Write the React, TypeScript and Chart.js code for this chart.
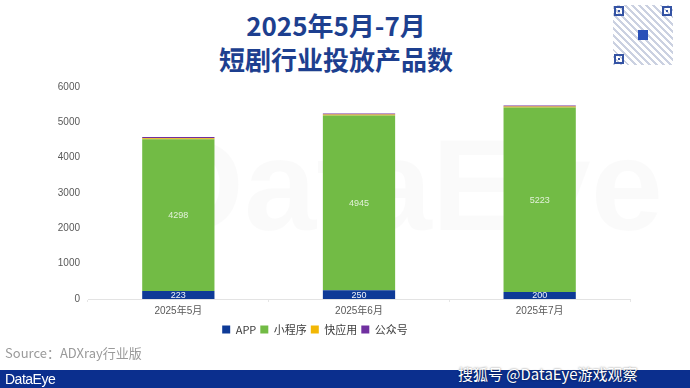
import React, { useEffect, useRef } from "react";
import { Chart, registerables } from "chart.js";

Chart.register(...registerables);

const categories = ["2025年5月", "2025年6月", "2025年7月"];
const appValues = [223, 250, 200];
const miniProgramValues = [4298, 4945, 5223];
const quickAppValues = [32, 30, 28];
const officialAccountValues = [30, 28, 28];
const seriesNames = ["APP", "小程序", "快应用", "公众号"];
const seriesColors = ["#0E3A97", "#72BB45", "#F2B705", "#7030A0"];
const yTicks = [0, 1000, 2000, 3000, 4000, 5000, 6000];

const FONT = '"Liberation Sans", "Noto Sans CJK SC", sans-serif';
const CJK = '"Noto Sans CJK SC", "Liberation Sans", sans-serif';

const labelPlugin = {
  id: "segLabels",
  afterDatasetsDraw(chart: any) {
    const ctx = chart.ctx;
    ctx.save();
    ctx.font = `9px ${FONT}`;
    ctx.textAlign = "center";
    ctx.textBaseline = "middle";
    [0, 1].forEach((di) => {
      const meta = chart.getDatasetMeta(di);
      const data = chart.data.datasets[di].data;
      meta.data.forEach((bar: any, i: number) => {
        const p = bar.getProps(["x", "y", "base"], true);
        ctx.fillStyle = di === 0 ? "rgba(255,255,255,0.95)" : "rgba(255,255,255,0.8)";
        ctx.fillText(String(data[i]), p.x, (p.y + p.base) / 2 + 0.5);
      });
    });
    ctx.restore();
  },
};

function ChartView() {
  const ref = useRef<HTMLCanvasElement | null>(null);
  useEffect(() => {
    if (!ref.current) return;
    const values = [appValues, miniProgramValues, quickAppValues, officialAccountValues];
    const chart = new Chart(ref.current, {
      type: "bar",
      data: {
        labels: categories,
        datasets: values.map((v, i) => ({
          label: seriesNames[i],
          data: v,
          backgroundColor: seriesColors[i],
          borderWidth: 0,
          barPercentage: 0.4,
          categoryPercentage: 1,
        })),
      },
      options: {
        animation: false,
        responsive: false,
        maintainAspectRatio: false,
        layout: { padding: { left: 0, right: 60, top: 5, bottom: 0 } },
        scales: {
          x: {
            stacked: true,
            grid: {
              display: true,
              drawOnChartArea: false,
              drawTicks: true,
              tickLength: 3,
              color: "#e6e6e6",
              offset: true,
            },
            border: { display: true, color: "#e3e3e3" },
            ticks: { color: "#595959", font: { size: 10, family: FONT }, padding: 3 },
          },
          y: {
            stacked: true,
            min: 0,
            max: 6000,
            afterBuildTicks(scale: any) {
              scale.ticks = yTicks.map((v) => ({ value: v }));
            },
            afterFit(scale: any) {
              scale.width = 88;
            },
            grid: { display: false, drawTicks: false },
            border: { display: false },
            ticks: {
              color: "#595959",
              font: { size: 10, family: FONT },
              padding: 8,
              callback: (v: any) => String(v),
            },
          },
        },
        plugins: {
          legend: {
            position: "bottom",
            labels: {
              boxWidth: 8,
              boxHeight: 8,
              padding: 4,
              color: "#404040",
              font: { size: 11, family: CJK },
            },
          },
          tooltip: { enabled: false },
        },
      },
      plugins: [labelPlugin],
    } as any);
    return () => chart.destroy();
  }, []);
  return <canvas ref={ref} width={690} height={272} style={{ position: "absolute", left: 0, top: 73 }} />;
}

function QR() {
  const finder = (style: React.CSSProperties) => (
    <div
      style={{
        position: "absolute",
        width: 10,
        height: 10,
        border: "2px solid #2a4aa0",
        boxSizing: "border-box",
        ...style,
      }}
    >
      <div style={{ position: "absolute", left: 2, top: 2, width: 2, height: 2, background: "#2a4aa0" }} />
    </div>
  );
  return (
    <div
      style={{
        position: "absolute",
        left: 613,
        top: 5,
        width: 60,
        height: 60,
        background:
          "repeating-linear-gradient(45deg, #c9cfe0 0 2px, #ffffff 2px 5px), repeating-linear-gradient(-45deg, #d7dbea 0 2px, #ffffff 2px 4px)",
        opacity: 0.95,
      }}
    >
      {finder({ left: 1, top: 1 })}
      {finder({ right: 1, top: 1 })}
      {finder({ left: 1, bottom: 1 })}
      <div style={{ position: "absolute", left: 25, top: 25, width: 10, height: 10, background: "#1f47b5" }} />
    </div>
  );
}

export default function App() {
  return (
    <div
      style={{
        position: "fixed",
        left: 0,
        top: 0,
        width: 690,
        height: 388,
        background: "#ffffff",
        overflow: "hidden",
      }}
    >
      <div
        style={{
          position: "absolute",
          left: 0,
          width: 672,
          top: 8,
          textAlign: "center",
          color: "#1D3F8F",
          fontFamily: CJK,
          fontWeight: 700,
          fontSize: 26,
          lineHeight: "34px",
        }}
      >
        <div>2025年5月-7月</div>
        <div>短剧行业投放产品数</div>
      </div>
      <QR />
      <div
        style={{
          position: "absolute",
          left: 150,
          top: 120,
          fontFamily: FONT,
          fontSize: 130,
          fontWeight: 700,
          color: "rgba(0,0,0,0.02)",
          lineHeight: "130px",
        }}
      >
        DataEye
      </div>
      <ChartView />
      <div
        style={{
          position: "absolute",
          left: 5,
          top: 345,
          fontFamily: CJK,
          fontSize: 13,
          color: "#9a9a9a",
          lineHeight: "16px",
        }}
      >
        Source：ADXray行业版
      </div>
      <div
        style={{
          position: "absolute",
          left: 0,
          top: 370,
          width: 690,
          height: 18,
          background: "#0B2F8E",
        }}
      >
        <div
          style={{
            position: "absolute",
            left: 5,
            top: 0,
            fontFamily: FONT,
            fontSize: 14,
            color: "#ffffff",
            lineHeight: "18px",
            letterSpacing: -0.5,
          }}
        >
          DataEye
        </div>
      </div>
      <div
        style={{
          position: "absolute",
          left: 458,
          top: 364,
          fontFamily: CJK,
          fontSize: 15,
          color: "#ffffff",
          lineHeight: "20px",
          textShadow: "0 0 2px rgba(0,0,0,0.6)",
        }}
      >
        搜狐号 @DataEye游戏观察
      </div>
    </div>
  );
}
